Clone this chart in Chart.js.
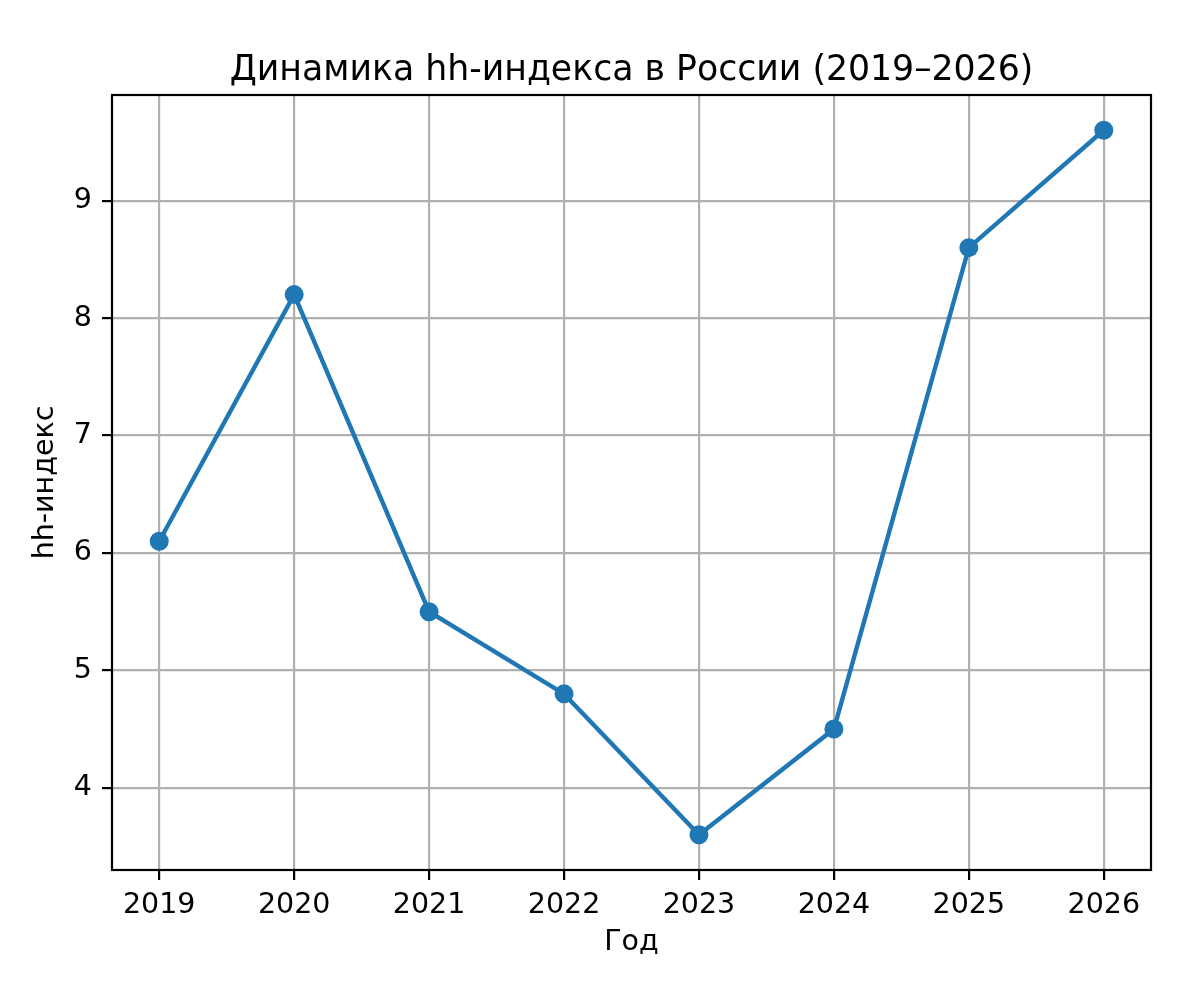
<!DOCTYPE html>
<html lang="ru">
<head>
<meta charset="utf-8">
<title>Динамика hh-индекса</title>
<script src="https://cdn.jsdelivr.net/npm/chart.js@4/dist/chart.umd.min.js"></script>
<style>
  body { margin: 0; background: #fff; }
  #wrap { width: 1200px; height: 991px; }
</style>
</head>
<body>
<div id="wrap"><canvas id="chart" width="1200" height="991"></canvas></div>
<script>
const years = [2019, 2020, 2021, 2022, 2023, 2024, 2025, 2026];
const hhIndex = [6.1, 8.2, 5.5, 4.8, 3.6, 4.5, 8.6, 9.6];
const chartTitle = 'Динамика hh-индекса в России (2019–2026)';
const xTitle = 'Год';
const yTitle = 'hh-индекс';

Chart.defaults.font.family = '"DejaVu Sans", sans-serif';
Chart.defaults.color = '#000';

// frame on all four sides + title centred over the plot area
const frameAndTitle = {
    id: 'frameAndTitle',
    afterDraw(chart) {
        const { ctx, chartArea: a } = chart;
        ctx.save();
        ctx.strokeStyle = '#000';
        ctx.lineWidth = 2.2;
        ctx.strokeRect(a.left, a.top, a.right - a.left, a.bottom - a.top);
        ctx.fillStyle = '#000';
        ctx.font = '34.7px "DejaVu Sans", sans-serif';
        ctx.textAlign = 'center';
        ctx.textBaseline = 'alphabetic';
        ctx.fillText(chartTitle, (a.left + a.right) / 2, 80);
        ctx.restore();
    }
};

const points = years.map((y, i) => ({ x: y, y: hhIndex[i] }));

new Chart(document.getElementById('chart').getContext('2d'), {
    type: 'line',
    data: {
        datasets: [{
            data: points,
            borderColor: '#1f77b4',
            backgroundColor: '#1f77b4',
            borderWidth: 4.4,
            pointRadius: 9.5,
            pointHoverRadius: 9.5,
            pointBorderWidth: 0,
            pointBackgroundColor: '#1f77b4',
            tension: 0,
            fill: false
        }]
    },
    options: {
        responsive: false,
        animation: false,
        devicePixelRatio: 1,
        layout: { padding: { top: 95, right: 49, left: 0, bottom: 0 } },
        plugins: {
            legend: { display: false },
            tooltip: { enabled: false }
        },
        scales: {
            x: {
                type: 'linear',
                min: 2018.65,
                max: 2026.35,
                afterFit: s => { s.height = 121; },
                grid: { color: '#b0b0b0', lineWidth: 2.2, tickColor: '#000', tickWidth: 2.2, tickLength: 10 },
                border: { display: false },
                ticks: {
                    stepSize: 1,
                    includeBounds: false,
                    padding: 8,
                    font: { size: 28.5 },
                    callback: v => String(v)
                },
                title: { display: true, text: xTitle, font: { size: 28.5 }, padding: { top: 0, bottom: 31 } }
            },
            y: {
                min: 3.3,
                max: 9.9,
                afterFit: s => { s.width = 112; },
                grid: { color: '#b0b0b0', lineWidth: 2.2, tickColor: '#000', tickWidth: 2.2, tickLength: 10 },
                border: { display: false },
                ticks: {
                    stepSize: 1,
                    includeBounds: false,
                    padding: 10,
                    font: { size: 28.5 },
                    callback: v => String(v)
                },
                title: { display: true, text: yTitle, font: { size: 28.5 }, padding: { top: 28, bottom: 0 } }
            }
        }
    },
    plugins: [frameAndTitle]
});
</script>
</body>
</html>
